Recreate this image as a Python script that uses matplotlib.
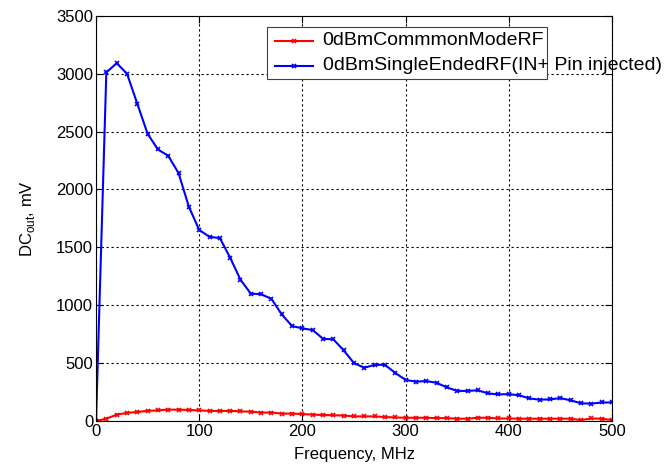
import matplotlib
matplotlib.use('Agg')
import matplotlib.pyplot as plt
from matplotlib.lines import Line2D
from matplotlib.patches import Rectangle

plt.rcParams['font.family'] = ['Liberation Sans', 'DejaVu Sans']

# Frequency points, MHz
freq = [0, 10, 20, 30, 40, 50, 60, 70, 80, 90,
        100, 110, 120, 130, 140, 150, 160, 170, 180, 190,
        200, 210, 220, 230, 240, 250, 260, 270, 280, 290,
        300, 310, 320, 330, 340, 350, 360, 370, 380, 390,
        400, 410, 420, 430, 440, 450, 460, 470, 480, 490, 500]

# DC out, mV
common_mode = [0, 20, 55, 70, 78, 88, 92, 98, 98, 95,
               92, 87, 87, 87, 84, 80, 73, 73, 64, 64,
               60, 55, 52, 50, 47, 40, 40, 40, 34, 31,
               28, 28, 28, 25, 25, 20, 20, 28, 28, 22,
               22, 20, 20, 20, 20, 20, 20, 8, 22, 20, 8]

single_ended = [0, 3010, 3090, 3000, 2740, 2480, 2345, 2290, 2140, 1850,
                1650, 1590, 1580, 1410, 1220, 1100, 1095, 1055, 920, 820,
                800, 785, 710, 705, 610, 500, 460, 485, 485, 415,
                355, 340, 345, 330, 290, 260, 260, 265, 238, 230,
                232, 222, 195, 184, 187, 198, 178, 153, 150, 160, 160]

labels = ["0dBmCommmonModeRF", "0dBmSingleEndedRF(IN+ Pin injected)"]

fig = plt.figure(figsize=(6.64, 4.65), dpi=100)
ax = fig.add_axes([0.1446, 0.0946, 0.7771, 0.8716])

ax.plot(freq, common_mode, color='red', marker='x', markersize=3.5,
        markeredgewidth=1.2, linewidth=1.5)
ax.plot(freq, single_ended, color='blue', marker='x', markersize=3.5,
        markeredgewidth=1.2, linewidth=1.5)

ax.set_xlim(0, 500)
ax.set_ylim(0, 3500)
ax.set_xticks([0, 100, 200, 300, 400, 500])
ax.set_yticks(range(0, 3501, 500))
ax.grid(True, color='black', linestyle=(0, (2, 2.5)), linewidth=0.8)
ax.tick_params(direction='in', top=True, right=True, length=5,
               labelsize=12, pad=2)
for s in ax.spines.values():
    s.set_linewidth(0.8)

ax.set_xlabel("Frequency, MHz", fontsize=12, labelpad=6)
ax.set_ylabel(r"DC$_{\mathregular{out}}$, mV", fontsize=12, labelpad=14)

# legend drawn by hand so the long label runs past the box, as in the original
tr = ax.transAxes
box = Rectangle((0.331, 0.844), 0.543, 0.129, transform=tr, facecolor='white',
                edgecolor='#404040', linewidth=0.8, zorder=5)
ax.add_patch(box)
rows = [0.938, 0.876]
colors = ['red', 'blue']
for yy, c, lab in zip(rows, colors, labels):
    ax.add_line(Line2D([0.347, 0.420], [yy, yy], transform=tr, color=c,
                       linewidth=1.5, zorder=6, clip_on=False))
    ax.add_line(Line2D([0.3835], [yy], transform=tr, color=c, marker='x',
                       markersize=3.5, markeredgewidth=1.2, zorder=6, clip_on=False))
    ax.text(0.439, yy, lab, transform=tr, fontsize=14, va='center',
            ha='left', zorder=7, clip_on=False)

fig.savefig('out.png', dpi=100)
